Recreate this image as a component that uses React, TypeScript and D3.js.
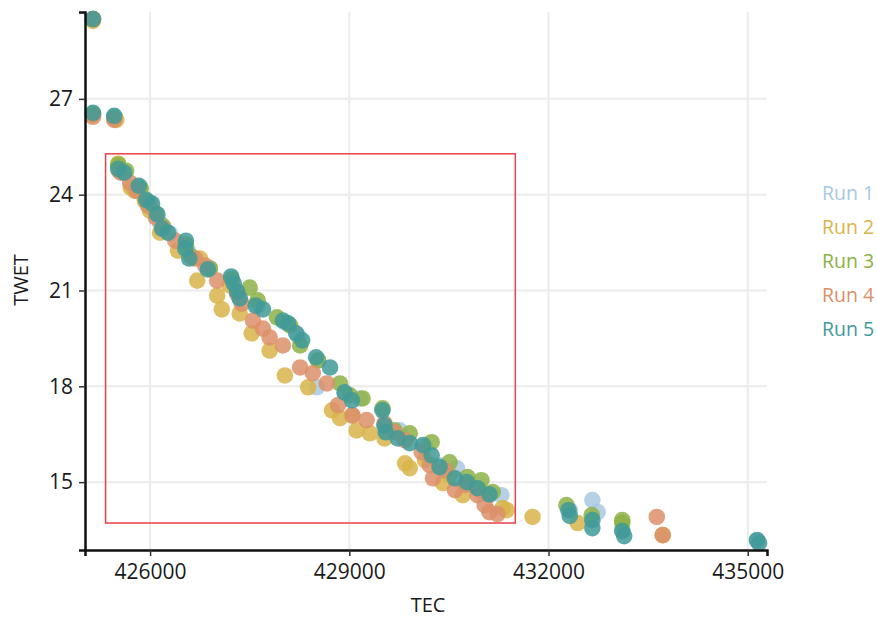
import React, { useEffect, useRef } from "react";
import * as d3 from "d3";

// TEC vs TWET, five runs
const run1: [number, number][] = [
  [425140, 29.5], [425140, 26.53], [425460, 26.44], [425530, 24.84], [425850, 24.25],
  [426000, 23.72], [426150, 23.12], [426300, 22.78], [426570, 22.25], [426900, 21.69],
  [427230, 21.31], [427350, 20.78], [427620, 20.5], [428030, 20.0], [428230, 19.59],
  [428510, 17.97], [428530, 18.81], [428930, 17.78], [429160, 17.62], [429530, 16.69],
  [429760, 16.62], [430140, 16.12], [430360, 15.53], [430620, 15.44], [430810, 14.91],
  [431110, 14.59], [431290, 14.59], [432320, 14.12], [432660, 14.44], [432740, 14.06],
  [433110, 13.5], [435140, 13.16],
];
const run2: [number, number][] = [
  [425140, 29.44], [425140, 26.5], [425490, 26.34], [425520, 24.97], [425530, 24.75],
  [425710, 24.22], [425770, 24.12], [425920, 23.81], [426000, 23.5], [426150, 22.81],
  [426420, 22.25], [426710, 21.31], [426750, 22.0], [427010, 20.84], [427080, 20.41],
  [427200, 21.16], [427350, 20.28], [427530, 19.66], [427800, 19.12], [428030, 18.34],
  [428380, 17.97], [428740, 17.25], [428860, 17.0], [429040, 17.09], [429110, 16.62],
  [429310, 16.53], [429530, 16.37], [429840, 15.59], [429910, 15.44], [430140, 15.69],
  [430410, 14.97], [430510, 15.22], [430710, 14.59], [430960, 14.75], [431310, 14.19],
  [431370, 14.12], [431760, 13.91], [432440, 13.72], [433720, 13.34],
];
const run3: [number, number][] = [
  [425140, 29.5], [425140, 26.53], [425460, 26.41], [425520, 24.94], [425640, 24.75],
  [425860, 24.19], [425970, 23.78], [426090, 23.41], [426200, 23.0], [426540, 22.44],
  [426620, 22.06], [426900, 21.69], [427230, 21.37], [427500, 21.09], [427620, 20.69],
  [427910, 20.16], [428110, 19.91], [428260, 19.28], [428530, 18.81], [428860, 18.09],
  [429010, 17.72], [429200, 17.62], [429500, 17.31], [429680, 16.62], [429910, 16.53],
  [430240, 16.25], [430510, 15.62], [430780, 15.16], [430990, 15.06], [431160, 14.69],
  [432270, 14.28], [432650, 13.97], [433110, 13.81], [433110, 13.72],
];
const run4: [number, number][] = [
  [425140, 29.5], [425140, 26.44], [425460, 26.34], [425560, 24.69], [425700, 24.37],
  [425800, 24.12], [425970, 23.66], [426090, 23.28], [426200, 22.94], [426380, 22.56],
  [426680, 22.0], [426830, 21.78], [427010, 21.31], [427310, 20.91], [427380, 20.59],
  [427550, 20.06], [427700, 19.81], [427800, 19.53], [428000, 19.28], [428260, 18.59],
  [428450, 18.41], [428660, 18.09], [428830, 17.41], [429050, 17.09], [429260, 16.94],
  [429530, 16.84], [429680, 16.56], [429840, 16.31], [430090, 15.94], [430210, 15.53],
  [430260, 15.12], [430440, 15.37], [430590, 14.75], [430740, 14.91], [430930, 14.59],
  [431040, 14.28], [431110, 14.06], [431230, 14.0], [433630, 13.91], [433720, 13.34],
];
const run5: [number, number][] = [
  [425140, 29.5], [425140, 26.56], [425460, 26.47], [425520, 24.81], [425610, 24.69],
  [425830, 24.28], [425940, 23.84], [426030, 23.72], [426110, 23.38], [426180, 22.94],
  [426270, 22.81], [426540, 22.56], [426530, 22.31], [426590, 22.0], [426870, 21.66],
  [427220, 21.44], [427260, 21.22], [427310, 20.97], [427350, 20.75], [427590, 20.53],
  [427700, 20.41], [428000, 20.06], [428080, 19.97], [428200, 19.66], [428290, 19.44],
  [428500, 18.91], [428710, 18.59], [428930, 17.81], [429040, 17.56], [429500, 17.25],
  [429530, 16.78], [429550, 16.56], [429730, 16.37], [429910, 16.22], [430110, 16.16],
  [430240, 15.84], [430360, 15.47], [430590, 15.12], [430770, 15.0], [430930, 14.81],
  [431110, 14.62], [432300, 14.12], [432320, 13.94], [432660, 13.81], [432660, 13.56],
  [433110, 13.47], [433140, 13.31], [435140, 13.19], [435170, 13.09],
];

const runNames = ["Run 1", "Run 2", "Run 3", "Run 4", "Run 5"];
const runColors = ["#a9c8e1", "#d8b44a", "#8db146", "#dc8f6a", "#3f9a98"];
const xTicks = [426000, 429000, 432000, 435000];
const yTicks = [15, 18, 21, 24, 27];
// highlighted region [x0, x1], [y0, y1]
const boxX = [425330, 431500];
const boxY = [13.72, 25.28];

const W = 877;
const H = 621;
const font = "'Open Sans', 'Segoe UI', sans-serif";

export default function App() {
  const ref = useRef<SVGSVGElement>(null);

  useEffect(() => {
    const svg = d3.select(ref.current);
    svg.selectAll("*").remove();

    const x = d3.scaleLinear().domain([425020, 435290]).range([85, 767]);
    const y = d3.scaleLinear().domain([12.875, 29.72]).range([550, 12]);

    // grid
    const grid = svg.append("g");
    grid.selectAll("line.vx")
      .data(xTicks)
      .enter()
      .append("line")
      .attr("x1", d => x(d)).attr("x2", d => x(d))
      .attr("y1", y.range()[1]).attr("y2", y.range()[0])
      .attr("stroke", "#ebebeb").attr("stroke-width", 2);
    grid.selectAll("line.hy")
      .data(yTicks)
      .enter()
      .append("line")
      .attr("x1", x.range()[0]).attr("x2", x.range()[1])
      .attr("y1", d => y(d)).attr("y2", d => y(d))
      .attr("stroke", "#ebebeb").attr("stroke-width", 2);

    // points, run 1 at the bottom
    const runs = [run1, run2, run3, run4, run5];
    runs.forEach((pts, i) => {
      svg.append("g")
        .selectAll("circle")
        .data(pts)
        .enter()
        .append("circle")
        .attr("cx", d => x(d[0]))
        .attr("cy", d => y(d[1]))
        .attr("r", 8.3)
        .attr("fill", runColors[i])
        .attr("fill-opacity", 0.85);
    });

    // red box
    svg.append("rect")
      .attr("x", x(boxX[0]))
      .attr("y", y(boxY[1]))
      .attr("width", x(boxX[1]) - x(boxX[0]))
      .attr("height", y(boxY[0]) - y(boxY[1]))
      .attr("fill", "none")
      .attr("stroke", "#e8414b")
      .attr("stroke-width", 1.5);

    // axes
    const xAxis = svg.append("g")
      .attr("transform", `translate(0, ${y.range()[0]})`)
      .call(d3.axisBottom(x).tickValues(xTicks).tickFormat(d3.format("d")).tickSizeOuter(0).tickSize(6).tickPadding(8));
    const yAxis = svg.append("g")
      .attr("transform", `translate(${x.range()[0]}, 0)`)
      .call(d3.axisLeft(y).tickValues(yTicks).tickFormat(d3.format("d")).tickSizeOuter(0).tickSize(6).tickPadding(6));
    [xAxis, yAxis].forEach(a => {
      a.select(".domain").attr("stroke", "#111").attr("stroke-width", 2.5);
      a.selectAll(".tick line").attr("stroke", "#333").attr("stroke-width", 1.5);
      a.selectAll(".tick text")
        .attr("fill", "#1a1a1a")
        .style("font-family", font)
        .style("font-size", "21px");
    });

    // axis titles
    svg.append("text")
      .attr("x", 428)
      .attr("y", 612)
      .attr("text-anchor", "middle")
      .style("font-family", font)
      .style("font-size", "20px")
      .attr("fill", "#1a1a1a")
      .text("TEC");
    svg.append("text")
      .attr("transform", "translate(28, 280) rotate(-90)")
      .attr("text-anchor", "middle")
      .style("font-family", font)
      .style("font-size", "20px")
      .attr("fill", "#1a1a1a")
      .text("TWET");

    // legend
    svg.append("g")
      .selectAll("text")
      .data(runNames)
      .enter()
      .append("text")
      .attr("x", 822)
      .attr("y", (d, i) => 193 + i * 34)
      .attr("dy", "0.35em")
      .style("font-family", font)
      .style("font-size", "19.5px")
      .attr("fill", (d, i) => runColors[i])
      .text(d => d);
  }, []);

  return (
    <svg
      ref={ref}
      width={W}
      height={H}
      style={{ position: "absolute", left: 0, top: 0, background: "#fff" }}
    />
  );
}
